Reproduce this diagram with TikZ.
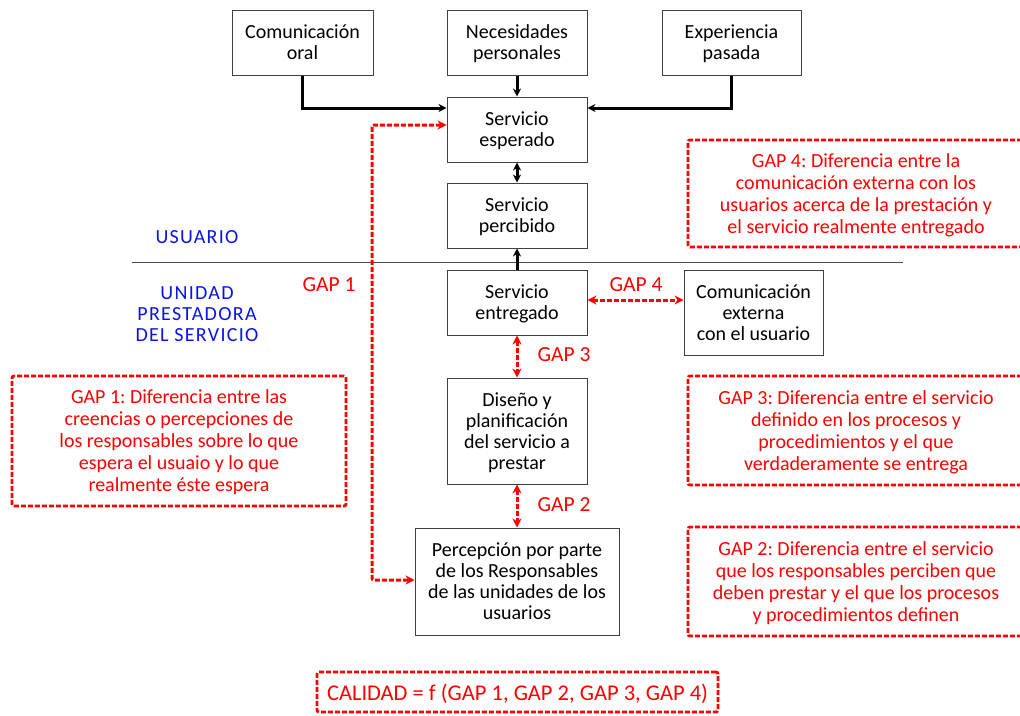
\documentclass[tikz,border=0pt]{standalone}
\usepackage{fontspec}
\setmainfont{Carlito}
\newfontfamily\spacedfont[LetterSpace=6.5]{Carlito}
\usepackage{xcolor}
\definecolor{gapred}{HTML}{FF0000}
\definecolor{unitblue}{HTML}{0A14E6}
\usetikzlibrary{arrows.meta, positioning, calc}
\frenchspacing

\begin{document}
\begin{tikzpicture}[x=1pt, y=-1pt, >=Stealth,
  box/.style={draw=black!75, line width=1pt, align=center, inner sep=2pt,
    font=\fontsize{20}{21}\selectfont, text depth=0pt},
  gapbox/.style={draw=gapred, line width=2.8pt, dash pattern=on 5pt off 2pt,
    rounded corners=2pt, text=gapred, align=center, inner sep=2pt,
    font=\fontsize{20}{22}\selectfont, text depth=0pt},
  gaplabel/.style={text=gapred, font=\fontsize{21.5}{22}\selectfont},
  sidelabel/.style={text=unitblue, align=center, font=\fontsize{20}{21}\spacedfont},
  flow/.style={line width=3pt, -{Stealth[length=8pt, width=8pt]}},
  gaplink/.style={draw=gapred, line width=3pt, dash pattern=on 5pt off 2pt,
    {Stealth[length=9pt, width=9pt]}-{Stealth[length=9pt, width=9pt]}}]

  \clip (0,0) rectangle (1020,715);
  \fill[white] (0,0) rectangle (1020,715);

  % Top inputs
  \node[box, minimum width=141pt, minimum height=65pt] (oral) at (302.5,42.5)
    {Comunicación\\oral};
  \node[box, minimum width=140pt, minimum height=65pt] (needs) at (517,42.5)
    {Necesidades\\personales};
  \node[box, minimum width=139pt, minimum height=65pt] (past) at (731.5,42.5)
    {Experiencia\\pasada};

  % Central column
  \node[box, minimum width=140pt, minimum height=65pt] (expected) at (517,129.5)
    {Servicio\\esperado};
  \node[box, minimum width=140pt, minimum height=65pt] (perceived) at (517,215.5)
    {Servicio\\percibido};
  \node[box, minimum width=140pt, minimum height=65pt] (delivered) at (517,302.5)
    {Servicio\\entregado};
  \node[box, minimum width=139pt, minimum height=85pt] (extcom) at (753.5,312.5)
    {Comunicación\\externa\\con el usuario};
  \node[box, minimum width=140pt, minimum height=106pt] (design) at (517,431)
    {Diseño y\\planificación\\del servicio a\\prestar};
  \node[box, minimum width=204pt, minimum height=107pt] (staff) at (517,581.5)
    {Percepción por parte\\de los Responsables\\de las unidades de los\\usuarios};

  % Divider between user and provider
  \coordinate (divL) at (132,262);
  \coordinate (divR) at (903,262);
  \draw[black!70, line width=1pt] (divL) -- (divR);
  \node[sidelabel] (user) at (197,237) {USUARIO};
  \node[sidelabel] (unit) at (197,314) {UNIDAD\\PRESTADORA\\DEL SERVICIO};

  % Expectation inputs
  \draw[flow] (oral.south) |- ($(expected.west)+(0,-21.5)$);
  \draw[flow] (needs) -- (expected);
  \draw[flow] (past.south) |- ($(expected.east)+(0,-21.5)$);
  \draw[line width=3pt, {Stealth[length=8pt, width=8pt]}-{Stealth[length=8pt, width=8pt]}]
    (expected) -- (perceived);
  \draw[flow] (delivered) -- (perceived);

  % Gaps
  \draw[gaplink, rounded corners=2pt] ($(expected.west)+(0,-4.5)$) -| (372,420)
    |- ($(staff.west)+(0,-1.5)$);
  \draw[gaplink] ($(delivered.east)+(0,-2.5)$) -- ($(extcom.west)+(0,-12.5)$);
  \draw[gaplink] (delivered) -- (design);
  \draw[gaplink] (design) -- (staff);

  \node[gaplabel] (gap1) at (329,285) {GAP 1};
  \node[gaplabel] (gap4) at (636,285) {GAP 4};
  \node[gaplabel] (gap3) at (564,355) {GAP 3};
  \node[gaplabel] (gap2) at (564,505) {GAP 2};

  % Gap descriptions
  \node[gapbox, minimum width=334pt, minimum height=130pt] (desc1) at (179,441)
    {GAP 1: Diferencia entre las\\creencias o percepciones de\\los responsables sobre lo que\\espera el usuaio y lo que\\realmente éste espera};
  \node[gapbox, minimum width=336pt, minimum height=107pt] (desc4) at (856,193.5)
    {GAP 4: Diferencia entre la\\comunicación externa con los\\usuarios acerca de la prestación y\\el servicio realmente entregado};
  \node[gapbox, minimum width=336pt, minimum height=109pt] (desc3) at (856,430.5)
    {GAP 3: Diferencia entre el servicio\\definido en los procesos y\\procedimientos y el que\\verdaderamente se entrega};
  \node[gapbox, minimum width=336pt, minimum height=109pt] (desc2) at (856,581.5)
    {GAP 2: Diferencia entre el servicio\\que los responsables perciben que\\deben prestar y el que los procesos\\y procedimientos definen};
  \node[gapbox, minimum width=401pt, minimum height=40pt, font=\fontsize{22.5}{24}\selectfont]
    (quality) at (517.5,692) {CALIDAD = f (GAP 1, GAP 2, GAP 3, GAP 4)};

\end{tikzpicture}
\end{document}
